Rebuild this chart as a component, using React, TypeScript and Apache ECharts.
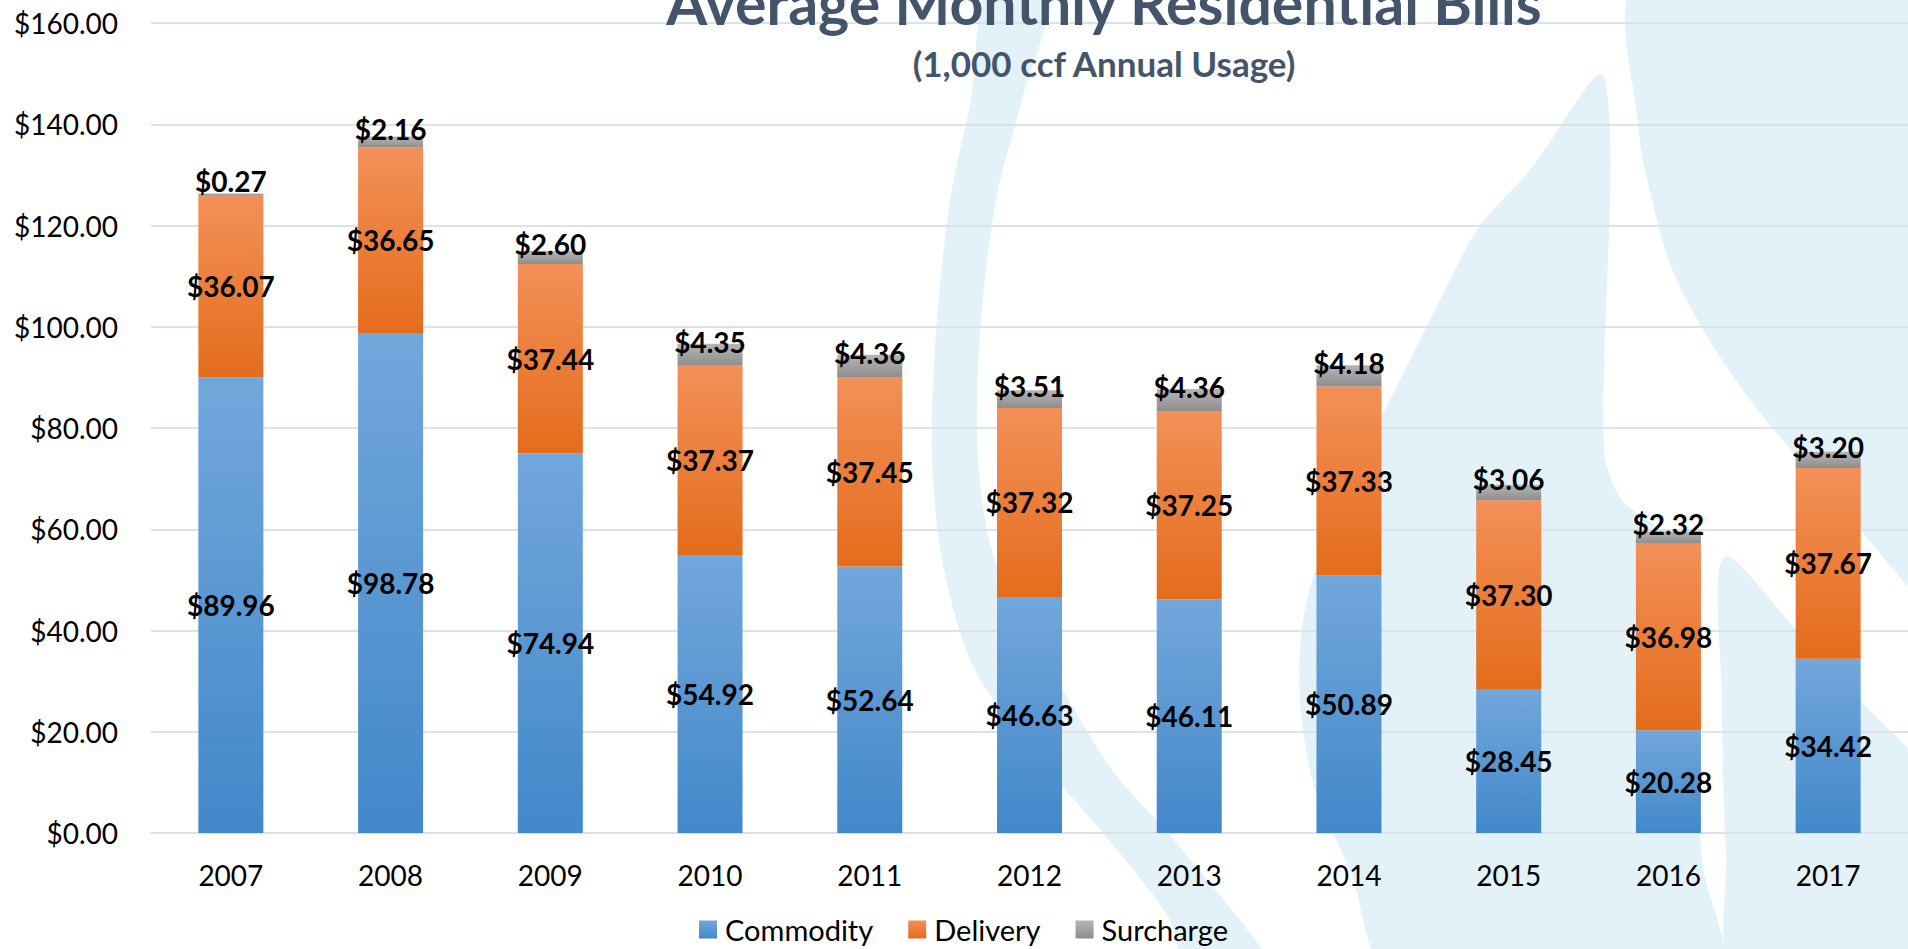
import React, { useEffect, useRef } from 'react';
import * as echarts from 'echarts';

const years = ['2007', '2008', '2009', '2010', '2011', '2012', '2013', '2014', '2015', '2016', '2017'];
const commodity = [89.96, 98.78, 74.94, 54.92, 52.64, 46.63, 46.11, 50.89, 28.45, 20.28, 34.42];
const delivery = [36.07, 36.65, 37.44, 37.37, 37.45, 37.32, 37.25, 37.33, 37.3, 36.98, 37.67];
const surcharge = [0.27, 2.16, 2.6, 4.35, 4.36, 3.51, 4.36, 4.18, 3.06, 2.32, 3.2];
const seriesNames = ['Commodity', 'Delivery', 'Surcharge'];
const titleText = 'Average Monthly Residential Bills';
const subtitleText = '(1,000 ccf Annual Usage)';
const yMin = 0;
const yMax = 160;
const yStep = 20;

const FONT = 'Lato';
const WM = '#E3F1F9';

// decorative watermark (flame logo) outlines
const leftBand = [
  [990, -20], [971, 100], [950, 200], [936, 333], [932, 450], [942, 560], [975, 670], [1048, 770], [1103, 833], [1170, 920], [1190, 980],
  [1275, 980], [1262, 949], [1168, 833], [1112, 770], [1052, 670], [995, 560], [978, 460], [980, 333], [996, 200], [1022, 100], [1052, -20],
];
const innerFlame = [
  [1604, 77], [1530, 170], [1479, 227], [1440, 300], [1400, 380], [1360, 460], [1325, 540], [1303, 620], [1300, 700], [1315, 790], [1350, 870], [1395, 980],
  [1718, 980], [1702, 860], [1697, 700], [1690, 585], [1662, 532], [1622, 500], [1604, 450],
];
const tongue = [
  [1724, 557], [1797, 631], [1860, 700], [1935, 790], [1935, 980], [1738, 980], [1726, 850], [1722, 700],
];
const outerRight = [
  [1639, -20], [1639, 133], [1652, 200], [1671, 267], [1705, 333], [1750, 400], [1800, 460], [1860, 530], [1935, 600], [1935, -20],
];

function grad(top: string, bottom: string) {
  return new echarts.graphic.LinearGradient(0, 0, 0, 1, [
    { offset: 0, color: top },
    { offset: 1, color: bottom },
  ]);
}

export default function App() {
  const ref = useRef<HTMLDivElement>(null);
  useEffect(() => {
    const chart = echarts.init(ref.current!, null, { renderer: 'svg' });
    const mkLabel = (dy: number) => ({
      show: true,
      position: 'inside',
      offset: [0, dy],
      formatter: (p: any) => '$' + Number(p.value).toFixed(2),
      color: '#000',
      fontFamily: FONT,
      fontWeight: 'bold',
      fontSize: 28,
      textBorderWidth: 0,
    });
    const poly = (pts: number[][]) => ({
      type: 'polygon',
      shape: { points: pts, smooth: 0.3 },
      style: { fill: WM },
      z: -10,
      silent: true,
    });
    chart.setOption({
      animation: false,
      backgroundColor: '#fff',
      graphic: [poly(leftBand), poly(innerFlame), poly(tongue), poly(outerRight)],
      title: [
        {
          text: titleText,
          left: 1104,
          top: -27,
          padding: 0,
          textAlign: 'center',
          textStyle: { fontFamily: FONT, fontWeight: 'bold', fontSize: 59, color: '#44546A' },
        },
        {
          text: subtitleText,
          left: 1104,
          top: 45,
          padding: 0,
          textAlign: 'center',
          textStyle: { fontFamily: FONT, fontWeight: 'bold', fontSize: 35, color: '#44546A' },
        },
      ],
      legend: {
        data: seriesNames,
        left: 699,
        top: 915,
        padding: 0,
        itemWidth: 18,
        itemHeight: 18,
        itemGap: 35,
        icon: 'rect',
        textStyle: { fontFamily: FONT, fontSize: 29, color: '#000', padding: [0, 0, 0, 3] },
      },
      grid: { left: 151, top: 23, width: 1760, height: 810 },
      xAxis: {
        type: 'category',
        data: years,
        axisTick: { show: false },
        axisLine: { show: true, lineStyle: { color: '#DDE1E8', width: 2 } },
        axisLabel: { fontFamily: FONT, fontSize: 28, color: '#000', margin: 28 },
      },
      yAxis: {
        type: 'value',
        min: yMin,
        max: yMax,
        interval: yStep,
        axisLine: { show: false },
        axisTick: { show: false },
        splitLine: { lineStyle: { color: '#DDE1E8', width: 2 } },
        axisLabel: {
          fontFamily: FONT,
          fontSize: 28,
          color: '#000',
          margin: 33,
          formatter: (v: number) => '$' + v.toFixed(2),
        },
      },
      series: [
        {
          name: seriesNames[0],
          type: 'bar',
          stack: 'bill',
          barWidth: 65,
          data: commodity,
          itemStyle: { color: grad('#72A7DB', '#4288CA') },
          label: mkLabel(0),
        },
        {
          name: seriesNames[1],
          type: 'bar',
          stack: 'bill',
          barWidth: 65,
          data: delivery,
          itemStyle: { color: grad('#F39058', '#E46C1C') },
          label: mkLabel(0),
        },
        {
          name: seriesNames[2],
          type: 'bar',
          stack: 'bill',
          barWidth: 65,
          data: surcharge,
          itemStyle: { color: grad('#B5B5B5', '#8E8E8E') },
          label: mkLabel(-13),
        },
      ],
    });
    return () => chart.dispose();
  }, []);
  return (
    <div
      ref={ref}
      style={{ position: 'absolute', left: 0, top: 0, width: 1908, height: 949, background: '#fff' }}
    />
  );
}
